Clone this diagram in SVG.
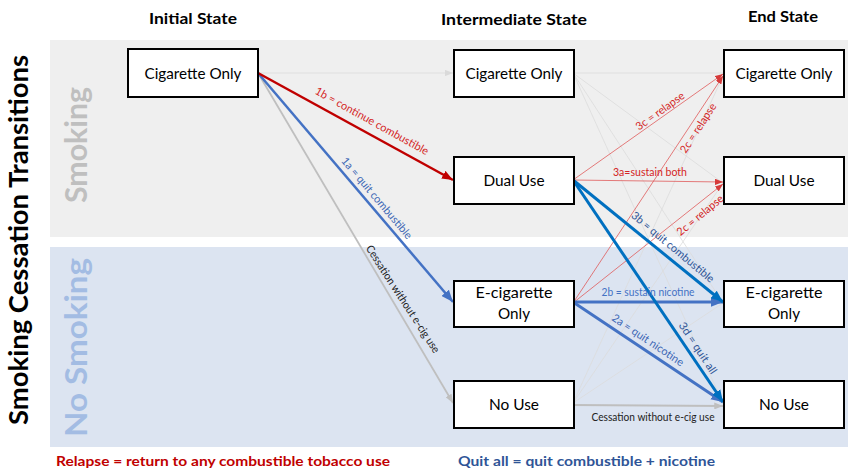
<svg xmlns="http://www.w3.org/2000/svg" width="848" height="469" viewBox="0 0 848 469">
<defs>
<style>
text{font-family:Lato,"Liberation Sans",sans-serif;}
.box{fill:#fff;stroke:#000;stroke-width:2;}
.nt{font-size:15px;fill:#000;text-anchor:middle;}
.hd{font-size:15px;font-weight:bold;fill:#000;text-anchor:middle;}
.lb{font-size:11px;text-anchor:middle;}
.faint{stroke:#dcdcdc;stroke-width:0.8;fill:none;}
.redT{stroke:#c00000;stroke-width:2.5;fill:none;}
.redt{stroke:#e05a5a;stroke-width:0.8;fill:none;}
.blue{stroke:#4472c4;stroke-width:3;fill:none;}
.blued{stroke:#0070c0;stroke-width:3;fill:none;}
.gray{stroke:#bfbfbf;stroke-width:1.8;fill:none;}
</style>
<marker id="aRedT" markerUnits="userSpaceOnUse" viewBox="0 0 10 8" refX="10" refY="4" markerWidth="11" markerHeight="9" orient="auto"><path d="M0,0 L10,4 L0,8 z" fill="#c00000"/></marker>
<marker id="aRedt" markerUnits="userSpaceOnUse" viewBox="0 0 10 8" refX="10" refY="4" markerWidth="8" markerHeight="6.5" orient="auto"><path d="M0,0 L10,4 L0,8 z" fill="#d63a3a"/></marker>
<marker id="aBlue" markerUnits="userSpaceOnUse" viewBox="0 0 10 8" refX="10" refY="4" markerWidth="12" markerHeight="10" orient="auto"><path d="M0,0 L10,4 L0,8 z" fill="#4472c4"/></marker>
<marker id="aBlued" markerUnits="userSpaceOnUse" viewBox="0 0 10 8" refX="10" refY="4" markerWidth="12" markerHeight="10" orient="auto"><path d="M0,0 L10,4 L0,8 z" fill="#0070c0"/></marker>
<marker id="aGray" markerUnits="userSpaceOnUse" viewBox="0 0 10 8" refX="10" refY="4" markerWidth="9" markerHeight="7" orient="auto"><path d="M0,0 L10,4 L0,8 z" fill="#bfbfbf"/></marker>
<marker id="aFaint" markerUnits="userSpaceOnUse" viewBox="0 0 10 8" refX="10" refY="4" markerWidth="8" markerHeight="6.5" orient="auto"><path d="M0,0 L10,4 L0,8 z" fill="#dadada"/></marker>
</defs>

<g id="panels">
<rect x="50" y="40" width="798" height="197" fill="#efefef"/>
<rect x="50" y="247" width="798" height="200" fill="#dce4f1"/>
</g>

<g id="titles">
<text transform="translate(28,240) rotate(-90)" text-anchor="middle" font-size="27" font-weight="bold" fill="#000" textLength="370" lengthAdjust="spacingAndGlyphs">Smoking Cessation Transitions</text>
<text transform="translate(87,145) rotate(-90)" text-anchor="middle" font-size="30" font-weight="bold" fill="#bfbfbf" textLength="116" lengthAdjust="spacingAndGlyphs">Smoking</text>
<text transform="translate(87,347.5) rotate(-90)" text-anchor="middle" font-size="30" font-weight="bold" fill="#a3bce3" textLength="179" lengthAdjust="spacingAndGlyphs">No Smoking</text>
<text class="hd" x="193" y="24" textLength="88" lengthAdjust="spacingAndGlyphs">Initial State</text>
<text class="hd" x="514" y="25" textLength="146" lengthAdjust="spacingAndGlyphs">Intermediate State</text>
<text class="hd" x="783" y="22" textLength="70" lengthAdjust="spacingAndGlyphs">End State</text>
<text x="56" y="466" font-size="14" font-weight="bold" fill="#c00000" textLength="334" lengthAdjust="spacingAndGlyphs">Relapse = return to any combustible tobacco use</text>
<text x="458" y="466" font-size="14" font-weight="bold" fill="#2f5597" textLength="257" lengthAdjust="spacingAndGlyphs">Quit all = quit combustible + nicotine</text>
</g>

<g id="connectors">
<line class="faint" x1="258" y1="73" x2="453" y2="73" marker-end="url(#aFaint)"/>
<line class="faint" x1="573" y1="73" x2="723" y2="73"/>
<line class="faint" x1="573" y1="73" x2="723" y2="183"/>
<line class="faint" x1="573" y1="73" x2="723" y2="303"/>
<line class="faint" x1="573" y1="73" x2="723" y2="403"/>
<line class="faint" x1="573" y1="403" x2="723" y2="76"/>
<line class="faint" x1="573" y1="403" x2="723" y2="183"/>
<line class="faint" x1="573" y1="403" x2="723" y2="303"/>

<line class="gray" x1="258" y1="73" x2="453" y2="403" marker-end="url(#aGray)"/>
<line class="blue" style="stroke-width:2.5" x1="258" y1="73" x2="453" y2="302" marker-end="url(#aBlue)"/>
<line class="redT" x1="258" y1="73" x2="453" y2="180" marker-end="url(#aRedT)"/>

<line class="redt" x1="573" y1="180" x2="723" y2="74" marker-end="url(#aRedt)"/>
<line class="redt" x1="573" y1="180" x2="723" y2="182" marker-end="url(#aRedt)"/>
<line class="redt" x1="573" y1="303" x2="723" y2="76" marker-end="url(#aRedt)"/>
<line class="redt" x1="573" y1="303" x2="723" y2="184" marker-end="url(#aRedt)"/>

<line class="gray" x1="573" y1="405" x2="723" y2="406" marker-end="url(#aGray)"/>
<line class="blue" x1="573" y1="302" x2="723" y2="302" marker-end="url(#aBlue)"/>
<line class="blue" x1="573" y1="302" x2="723" y2="402" marker-end="url(#aBlue)"/>
<line class="blued" x1="573" y1="180" x2="723" y2="302" marker-end="url(#aBlued)"/>
<line class="blued" x1="573" y1="180" x2="723" y2="402" marker-end="url(#aBlued)"/>

<g id="labels">
<text class="lb" fill="#d42424" transform="translate(372,121) rotate(29)" dy="0.35em" textLength="128" lengthAdjust="spacingAndGlyphs">1b = continue combustible</text>
<text class="lb" fill="#3d67b5" transform="translate(377,198) rotate(49.8)" dy="0.35em" textLength="103" lengthAdjust="spacingAndGlyphs">1a = quit combustible</text>
<text class="lb" fill="#222" transform="translate(403,299) rotate(57)" dy="0.35em" textLength="126" lengthAdjust="spacingAndGlyphs">Cessation without e-cig use</text>
<text class="lb" fill="#d42424" transform="translate(660,111) rotate(-35.7)" dy="0.35em" textLength="57" lengthAdjust="spacingAndGlyphs">3c = relapse</text>
<text class="lb" fill="#d42424" transform="translate(698,128) rotate(-57)" dy="0.35em" textLength="57" lengthAdjust="spacingAndGlyphs">2c = relapse</text>
<text class="lb" fill="#d42424" x="650" y="172" dy="0.35em" textLength="74" lengthAdjust="spacingAndGlyphs">3a=sustain  both</text>
<text class="lb" fill="#d42424" transform="translate(700,215) rotate(-39.8)" dy="0.35em" textLength="57" lengthAdjust="spacingAndGlyphs">2c = relapse</text>
<text class="lb" fill="#2f5597" transform="translate(673,247) rotate(39.8)" dy="0.35em" textLength="104" lengthAdjust="spacingAndGlyphs">3b =  quit combustible</text>
<text class="lb" fill="#4472c4" x="648" y="292" dy="0.35em" textLength="93" lengthAdjust="spacingAndGlyphs">2b = sustain nicotine</text>
<text class="lb" fill="#3d67b5" transform="translate(648,340) rotate(33.9)" dy="0.35em" textLength="84" lengthAdjust="spacingAndGlyphs">2a = quit  nicotine</text>
<text class="lb" fill="#2f5597" transform="translate(698,348) rotate(56.4)" dy="0.35em" textLength="60" lengthAdjust="spacingAndGlyphs">3d = quit  all</text>
<text class="lb" fill="#222" x="653" y="417" dy="0.35em" textLength="123" lengthAdjust="spacingAndGlyphs">Cessation without e-cig use</text>
</g>
</g>

<g id="init-cig"><rect class="box" x="128" y="49" width="130" height="48"/><text class="nt" x="193" y="79" textLength="97" lengthAdjust="spacingAndGlyphs">Cigarette Only</text></g>

<g id="mid-cig"><rect class="box" x="454" y="50" width="120" height="47"/><text class="nt" x="514" y="79" textLength="97" lengthAdjust="spacingAndGlyphs">Cigarette Only</text></g>
<g id="mid-dual"><rect class="box" x="454" y="157" width="120" height="47"/><text class="nt" x="514" y="186" textLength="61" lengthAdjust="spacingAndGlyphs">Dual Use</text></g>
<g id="mid-ecig"><rect class="box" x="454" y="281" width="120" height="46"/><text class="nt" x="514" y="298" textLength="77" lengthAdjust="spacingAndGlyphs">E-cigarette</text><text class="nt" x="514" y="319" textLength="32" lengthAdjust="spacingAndGlyphs">Only</text></g>
<g id="mid-none"><rect class="box" x="454" y="381" width="120" height="47"/><text class="nt" x="514" y="410" textLength="50" lengthAdjust="spacingAndGlyphs">No Use</text></g>

<g id="end-cig"><rect class="box" x="724" y="50" width="120" height="47"/><text class="nt" x="784" y="79" textLength="97" lengthAdjust="spacingAndGlyphs">Cigarette Only</text></g>
<g id="end-dual"><rect class="box" x="724" y="157" width="120" height="47"/><text class="nt" x="784" y="186" textLength="61" lengthAdjust="spacingAndGlyphs">Dual Use</text></g>
<g id="end-ecig"><rect class="box" x="724" y="281" width="120" height="46"/><text class="nt" x="784" y="298" textLength="77" lengthAdjust="spacingAndGlyphs">E-cigarette</text><text class="nt" x="784" y="319" textLength="32" lengthAdjust="spacingAndGlyphs">Only</text></g>
<g id="end-none"><rect class="box" x="724" y="381" width="120" height="47"/><text class="nt" x="784" y="410" textLength="50" lengthAdjust="spacingAndGlyphs">No Use</text></g>
</svg>
